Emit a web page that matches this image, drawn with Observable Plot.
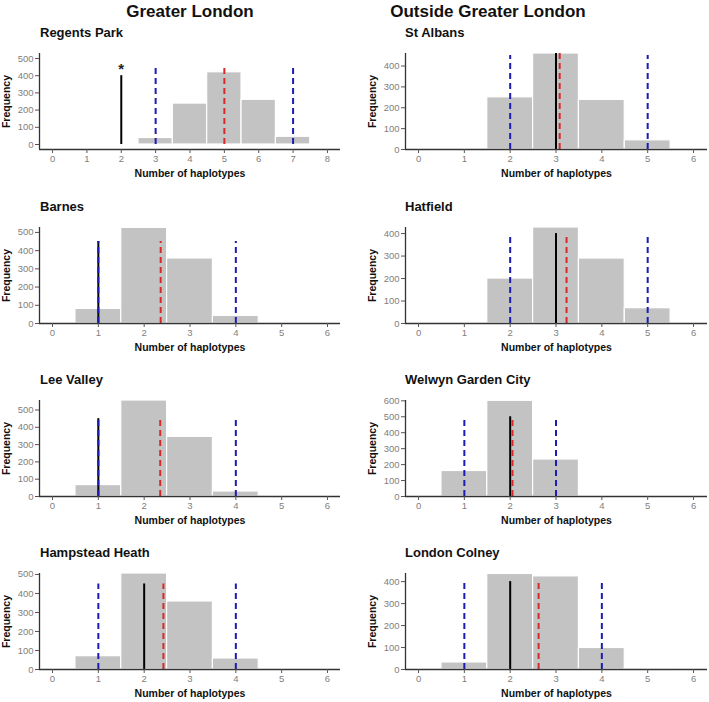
<!DOCTYPE html>
<html><head><meta charset="utf-8">
<script src="https://cdn.jsdelivr.net/npm/d3@7"></script>
<script src="https://cdn.jsdelivr.net/npm/@observablehq/plot@0.6"></script>
<style>
body{margin:0;background:#fff;font-family:"Liberation Sans",Arial,sans-serif;}
#root{position:relative;width:709px;height:702px;overflow:hidden;background:#fff;}
.hdr{position:absolute;font-weight:bold;font-size:17px;line-height:20px;color:#111;white-space:nowrap;transform:translateX(-50%);}
.ttl{position:absolute;font-weight:bold;font-size:13px;line-height:15px;color:#111;white-space:nowrap;}
.pnl{position:absolute;}
.pnl svg{overflow:visible;}
.pnl g[aria-label$="axis label"] text{font-weight:bold;font-size:10.5px;fill:#111;}
.pnl g[aria-label$="tick label"] text{fill:#808080;}
</style></head><body><div id="root"></div>
<script>
// ---- data ----
const headers = ["Greater London", "Outside Greater London"];
const sites = ["Regents Park", "Barnes", "Lee Valley", "Hampstead Heath",
               "St Albans", "Hatfield", "Welwyn Garden City", "London Colney"];
const columns = [0, 0, 0, 0, 1, 1, 1, 1];
const rows = [0, 1, 2, 3, 0, 1, 2, 3];

// histogram bins (number of haplotypes) and frequencies per site
const binsRegents = [3, 4, 5, 6, 7];
const countsRegents = [38, 238, 420, 260, 45];
const binsBarnes = [1, 2, 3, 4];
const countsBarnes = [80, 525, 357, 42];
const binsLee = [1, 2, 3, 4];
const countsLee = [66, 555, 345, 29];
const binsHampstead = [1, 2, 3, 4];
const countsHampstead = [70, 505, 358, 58];
const binsStAlbans = [2, 3, 4, 5];
const countsStAlbans = [250, 460, 238, 44];
const binsHatfield = [1, 2, 3, 4, 5];
const countsHatfield = [4, 200, 427, 289, 68];
const binsWelwyn = [1, 2, 3];
const countsWelwyn = [160, 600, 232];
const binsColney = [1, 2, 3, 4, 5];
const countsColney = [32, 435, 424, 98, 5];

// observed value (black), simulated mean (red), 95% limits (blue)
const observed = [2, 1, 1, 2, 3, 3, 2, 2];
const observedHeight = [400, 450, 450, 450, 460, 400, 500, 400];
const significant = [true, false, false, false, false, false, false, false];
const means = [5.0, 2.36, 2.35, 2.42, 3.08, 3.23, 2.05, 2.62];
const meanHeight = [450, 450, 450, 450, 460, 400, 500, 400];
const lower = [3, 1, 1, 1, 2, 2, 1, 1];
const upper = [7, 4, 4, 4, 5, 5, 3, 4];
const limitHeight = [450, 450, 450, 450, 450, 400, 500, 400];

// axis ticks and domains
const xTicks8 = [0, 1, 2, 3, 4, 5, 6, 7, 8];
const xTicks6 = [0, 1, 2, 3, 4, 5, 6];
const yTicks400 = [0, 100, 200, 300, 400];
const yTicks500 = [0, 100, 200, 300, 400, 500];
const yTicks600 = [0, 100, 200, 300, 400, 500, 600];
const yMax = [529, 527, 555, 505, 460, 427, 602, 437];
const yMin = [-29, 0, 0, 0, 0, 0, 0, 0];

const allBins = [binsRegents, binsBarnes, binsLee, binsHampstead, binsStAlbans, binsHatfield, binsWelwyn, binsColney];
const allCounts = [countsRegents, countsBarnes, countsLee, countsHampstead, countsStAlbans, countsHatfield, countsWelwyn, countsColney];
const allXTicks = [xTicks8, xTicks6, xTicks6, xTicks6, xTicks6, xTicks6, xTicks6, xTicks6];
const allYTicks = [yTicks500, yTicks500, yTicks500, yTicks500, yTicks400, yTicks400, yTicks600, yTicks400];

// ---- layout ----
const root = document.getElementById("root");
const rowPlotTop = [53, 227, 400, 573];
const rowTitleCenter = [32, 206, 379, 552];
const headerX = [190, 488];

headers.forEach((h, i) => {
  const d = document.createElement("div");
  d.className = "hdr";
  d.textContent = h;
  d.style.left = headerX[i] + "px";
  d.style.top = "2px";
  root.appendChild(d);
});

const blue = "#1c1cb4", red = "#d42a2a";
const intFmt = d3.format("d");

sites.forEach((name, i) => {
  const col = columns[i], row = rows[i];
  const left = col === 0 ? 0 : 365;
  const width = col === 0 ? 345 : 344;
  const mL = col === 0 ? 39 : 40;
  const mR = col === 0 ? 5 : 2;
  const xdom = i === 0 ? [-0.38, 8.38] : [-0.284, col === 0 ? 6.284 : 6.305];
  const ydom = [yMin[i], yMax[i]];

  const t = document.createElement("div");
  t.className = "ttl";
  t.textContent = name;
  t.style.left = (left + mL + (col === 0 ? 1 : 0)) + "px";
  t.style.top = (rowTitleCenter[row] - 7.5) + "px";
  root.appendChild(t);

  const bars = allBins[i].map((b, k) => ({bin: b, count: allCounts[i][k]}));
  const obs = [{x: observed[i], h: observedHeight[i]}];
  const mean = [{x: means[i], h: meanHeight[i]}];
  const lim = [{x: lower[i], h: limitHeight[i]}, {x: upper[i], h: limitHeight[i]}];

  const marks = [
    Plot.rect(bars, {x1: d => d.bin - 0.5, x2: d => d.bin + 0.5, y1: d => 0, y2: "count",
      fill: "#c3c3c3", stroke: "#ffffff", strokeWidth: 1.2}),
    Plot.ruleX(obs, {x: "x", y1: d => 0, y2: "h", stroke: "#000", strokeWidth: 2}),
    Plot.ruleX(mean, {x: "x", y1: d => 0, y2: "h", stroke: red, strokeWidth: 2, strokeDasharray: "6,4"}),
    Plot.ruleX(lim, {x: "x", y1: d => 0, y2: "h", stroke: blue, strokeWidth: 2, strokeDasharray: "6,4"}),
    Plot.ruleX([xdom[0]], {stroke: "#333", strokeWidth: 1.3}),
    Plot.ruleY([ydom[0]], {stroke: "#333", strokeWidth: 1.3}),
    Plot.axisX({ticks: allXTicks[i], tickFormat: intFmt, tickSize: 4, tickPadding: 2, stroke: "#555",
      label: "Number of haplotypes", labelAnchor: "center", labelArrow: "none", labelOffset: 27}),
    Plot.axisY({ticks: allYTicks[i], tickFormat: intFmt, tickSize: 4, tickPadding: 2, stroke: "#555",
      label: "Frequency", labelAnchor: "center", labelArrow: "none", labelOffset: 37})
  ];
  if (significant[i]) {
    marks.push(Plot.text(obs, {x: "x", y: "h", text: d => "*", dy: -2, lineAnchor: "bottom",
      fontSize: 15, fontWeight: "bold", fill: "#222"}));
  }

  const chart = Plot.plot({
    width, height: 136,
    marginTop: 5, marginBottom: 35, marginLeft: mL, marginRight: mR,
    style: {fontFamily: "Liberation Sans, Arial, sans-serif", fontSize: "9.5px", background: "transparent", overflow: "visible"},
    x: {domain: xdom},
    y: {domain: ydom},
    marks
  });
  const p = document.createElement("div");
  p.className = "pnl";
  p.style.left = left + "px";
  p.style.top = (rowPlotTop[row] - 5) + "px";
  p.appendChild(chart);
  root.appendChild(p);
});
</script></body></html>
